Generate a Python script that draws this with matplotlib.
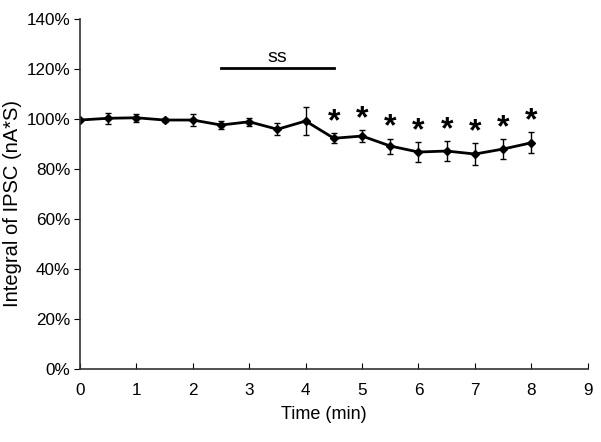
import matplotlib
matplotlib.use('Agg')
from matplotlib import pyplot as plt
from matplotlib.ticker import FuncFormatter

plt.rcParams['font.family'] = ['Liberation Sans', 'DejaVu Sans']

time_min = [0, 0.5, 1, 1.5, 2, 2.5, 3, 3.5, 4, 4.5, 5, 5.5, 6, 6.5, 7, 7.5, 8]
ipsc = [99.6, 100.3, 100.5, 99.6, 99.6, 97.6, 98.9, 95.9, 99.2, 92.3, 93.2, 89.2, 86.8, 87.2, 86.0, 88.0, 90.5]
sem = [0.0, 2.2, 1.5, 0.8, 2.3, 1.7, 1.6, 2.4, 5.6, 2.0, 2.4, 3.0, 4.0, 4.0, 4.3, 4.0, 4.2]
sig_from = 4.5
ss_start, ss_end, ss_level = 2.5, 4.5, 120.4

fig = plt.figure(figsize=(6.01, 4.42), dpi=100)
ax = fig.add_axes([0.133, 0.165, 0.845, 0.792])

ax.errorbar(time_min, ipsc, yerr=sem, color='black', lw=2, marker='D', ms=4.5,
            ecolor='black', elinewidth=1, capsize=2.5, capthick=1)

for t, v, e in zip(time_min, ipsc, sem):
    if t >= sig_from:
        ax.annotate('*', (t, v + e), xytext=(0, -3), textcoords='offset points',
                    ha='center', va='bottom', fontsize=23, fontweight='bold')

ax.plot([ss_start, ss_end], [ss_level, ss_level], color='black', lw=2)
ax.text((ss_start + ss_end) / 2, ss_level + 0.8, 'ss', ha='center', va='bottom', fontsize=14)

ax.set_xlim(0, 9)
ax.set_ylim(0, 140)
ax.set_xticks(range(0, 10))
ax.set_yticks(range(0, 141, 20))
ax.yaxis.set_major_formatter(FuncFormatter(lambda v, p: '%d%%' % v))
ax.tick_params(axis='x', direction='in', length=4, pad=10, labelsize=12.3)
ax.tick_params(axis='y', direction='out', length=4, pad=3, labelsize=12.3)
ax.spines['top'].set_visible(False)
ax.spines['right'].set_visible(False)
for s in ('left', 'bottom'):
    ax.spines[s].set_color('#333333')
    ax.spines[s].set_linewidth(1.2)
ax.set_xlabel('Time (min)', fontsize=13)
ax.set_ylabel('Integral of IPSC (nA*S)', fontsize=14.5)
ax.xaxis.set_label_coords(0.48, -0.105)
ax.yaxis.set_label_coords(-0.114, 0.474)

fig.savefig('out.png', dpi=100)
